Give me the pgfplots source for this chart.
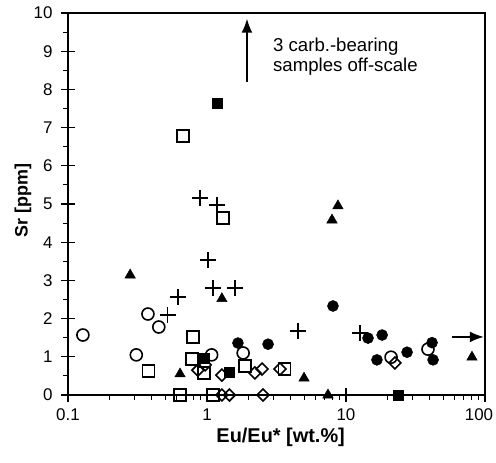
\documentclass[border=0pt]{standalone}
\usepackage{fontspec}
\setmainfont{Liberation Sans}
\usepackage{pgfplots}
\pgfplotsset{compat=1.18}
\usetikzlibrary{arrows.meta}
\begin{document}
\begin{tikzpicture}
\begin{axis}[
  name=ax,
  scale only axis, width=417bp, height=382bp,
  xmode=log, xmin=0.1, xmax=100, ymin=0, ymax=10,
  xtick={0.1,1,10,100}, xticklabels={0.1,1,10,{\hspace*{-12bp}100}},
  minor xtick={0.2,0.3,0.4,0.5,0.6,0.7,0.8,0.9,2,3,4,5,6,7,8,9,20,30,40,50,60,70,80,90},
  ytick={0,1,2,3,4,5,6,7,8,9,10},
  minor ytick={0.5,1.5,2.5,3.5,4.5,5.5,6.5,7.5,8.5,9.5},
  xtick pos=bottom, ytick pos=left,
  tick align=center,
  major tick length=14bp, minor tick length=5bp,
  minor x tick style={yshift=-2.5bp},
  minor y tick style={xshift=-2.5bp},
  tick style={line width=1.1bp, black},
  axis line style={line width=1.1bp},
  /pgf/number format/assume math mode=true,
  ticklabel style={font=\fontsize{17}{19}\selectfont},
  yticklabel style={xshift=-5bp},
  xticklabel style={yshift=-3bp},
  xlabel={\bfseries Eu/Eu* [wt.\%]},
  ylabel={\bfseries Sr [ppm]},
  xlabel style={font=\fontsize{20}{23}\selectfont, at={(axis description cs:0.51,-0.11)}, anchor=center},
  ylabel style={font=\fontsize{18}{21}\selectfont, at={(axis description cs:-0.108,0.51)}, anchor=center},
  clip=false,
  only marks,
]
% open circles
\addplot[mark=o, mark size=6bp, line width=1.6bp, mark options={fill=white}] coordinates {
(0.128,1.57) (0.376,2.12) (0.45,1.78) (0.31,1.05) (1.08,1.05) (1.82,1.10) (21.1,0.99) (38.9,1.20)};
% open squares
\addplot[mark=square, mark size=6bp, line width=1.6bp, mark options={fill=white}] coordinates {
(0.67,6.78) (1.30,4.63) (0.79,1.52) (0.38,0.63) (0.64,0) (0.78,0.95) (0.95,0.57) (1.10,0) (1.88,0.76) (3.6,0.68)};
% filled squares
\addplot[mark=square*, mark size=5bp, line width=0.5bp, mark options={fill=black}] coordinates {
(1.18,7.64) (0.96,0.97) (1.44,0.6) (23.7,0)};
% open diamonds
\addplot[mark=square, mark size=4.2bp, line width=1.6bp, mark options={fill=white, rotate=45}] coordinates {
(0.86,0.65) (0.97,0.79) (1.28,0.52) (1.28,0) (1.45,0) (2.21,0.58) (2.49,0.68) (3.35,0.68) (2.53,0) (22.5,0.84)};
% filled circles
\addplot[mark=*, mark size=5.5bp, line width=0.5bp, mark options={fill=black}] coordinates {
(1.67,1.36) (2.75,1.33) (8.06,2.33) (14.4,1.49) (18.2,1.57) (16.7,0.92) (27.5,1.12) (41.6,1.37) (42.3,0.92)};
% filled triangles
\addplot[mark=triangle*, mark size=6bp, line width=0.5bp, mark options={fill=black}] coordinates {
(0.28,3.14) (0.64,0.55) (1.28,2.52) (7.93,4.58) (8.75,4.95) (4.99,0.44) (7.42,0) (80.6,0.99)};
% plus
\addplot[mark=+, mark size=8bp, line width=1.8bp] coordinates {
(0.89,5.16) (1.18,4.97) (1.02,3.53) (0.62,2.57) (1.10,2.80) (1.59,2.80) (0.52,2.09) (4.52,1.68) (12.6,1.62)};
% arrows
\draw[line width=1.6bp, -{Latex[length=14bp,width=11bp]}] (axis cs:1.94,8.2) -- (axis cs:1.94,9.85);
\draw[line width=1.6bp, -{Latex[length=14bp,width=11bp]}] (axis cs:58,1.52) -- (axis cs:98,1.52);
\node[anchor=north west, align=left, inner sep=0pt, font=\fontsize{18.7}{20}\selectfont] at (axis cs:2.98,9.36) {3 carb.-bearing\\samples off-scale};
\end{axis}
\pgfresetboundingbox
\path ([shift={(-68bp,-68bp)}]ax.south west) rectangle ([shift={(11bp,13bp)}]ax.north east);
\end{tikzpicture}
\end{document}
